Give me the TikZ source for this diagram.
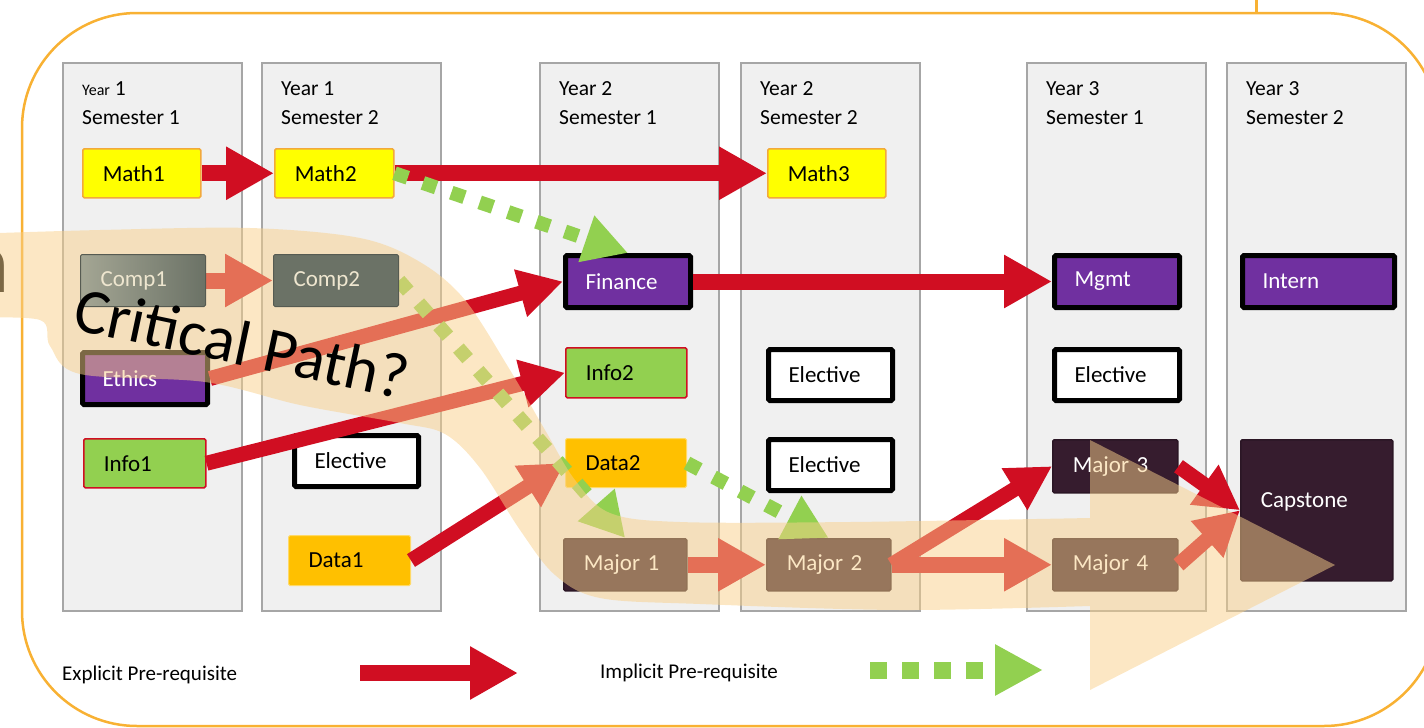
\documentclass[tikz,border=0pt]{standalone}
\usepackage{fontspec}
\setmainfont{Carlito}
\usetikzlibrary{arrows.meta}
\definecolor{redA}{HTML}{D00E22}
\definecolor{grnA}{HTML}{92D050}
\definecolor{purp}{HTML}{7030A0}
\definecolor{ylw}{HTML}{FFFF00}
\definecolor{ylwB}{HTML}{F2A93B}
\definecolor{orgD}{HTML}{FFC000}
\definecolor{darkc}{HTML}{361C2E}
\definecolor{colF}{HTML}{F0F0F0}
\definecolor{colB}{HTML}{A6A6A6}
\definecolor{outerc}{HTML}{F8B133}
\definecolor{bandc}{HTML}{F9D08A}
\definecolor{compc}{HTML}{6B7266}
\definecolor{compL}{HTML}{A4A694}
\definecolor{cmpT}{HTML}{EEE6CF}
\pgfdeclarelayer{bandlayer}
\pgfdeclarelayer{toplayer}
\pgfsetlayers{main,bandlayer,toplayer}
\begin{document}
\begin{tikzpicture}[x=1pt,y=-1pt,
  box/.style={rectangle, anchor=north west, inner xsep=20pt, inner ysep=0pt, align=left, font=\fontsize{23}{26}\selectfont, rounded corners=1.5pt},
  yel/.style={box, fill=ylw, draw=ylwB, line width=1.5pt},
  pur/.style={box, fill=purp, draw=black, line width=5pt, text=white},
  elec/.style={box, fill=white, draw=black, line width=5pt},
  grn/.style={box, fill=grnA, draw=redA, line width=1.5pt},
  org/.style={box, fill=orgD, draw=orgD!60!white, line width=1pt},
  drk/.style={box, fill=darkc, draw=darkc!80!black, line width=1.5pt, text=white},
  cmp/.style={box, fill=compc, draw=compc!80!black, line width=1pt, text=cmpT},
  col/.style={rectangle, anchor=north west, fill=colF, draw=colB, line width=1.5pt, minimum width=179pt, minimum height=548pt, inner sep=0pt},
  hdr/.style={anchor=base west, font=\fontsize{21.5}{26}\selectfont, inner sep=0pt},
  exA/.style={draw=redA, line width=16pt, -{Triangle[length=48pt,width=50pt]}},
  exD/.style={draw=redA, line width=15pt, -{Triangle[length=44pt,width=46pt]}},
  imA/.style={draw=grnA, line width=14pt, dash pattern=on 14pt off 16pt, -{Triangle[length=44pt,width=46pt]}},
  imL/.style={draw=grnA, line width=17pt, dash pattern=on 17pt off 15pt, -{Triangle[length=48pt,width=48pt]}},
  lgd/.style={anchor=base west, font=\fontsize{21}{24}\selectfont, inner sep=0pt},
]
\useasboundingbox (0,0) rectangle (1424,728);
% outer frame
\draw[outerc, line width=2.5pt, rounded corners=115pt] (22,13) rectangle (1439,726);
\draw[outerc, line width=3pt] (1256,0) -- (1256,13);

% columns
\foreach \cx/\nm in {62/c1,261/c2,539/c3,740/c4,1026/c5,1226/c6}
  \node[col] (\nm) at (\cx,62) {};
\node[hdr] (h1y) at (82,95) {{\fontsize{16}{20}\selectfont Year} 1};
\node[hdr] (h1s) at (82,124) {Semester 1};
\node[hdr] (h2y) at (281,95) {Year 1};
\node[hdr] (h2s) at (281,124) {Semester 2};
\node[hdr] (h3y) at (559,95) {Year 2};
\node[hdr] (h3s) at (559,124) {Semester 1};
\node[hdr] (h4y) at (760,95) {Year 2};
\node[hdr] (h4s) at (760,124) {Semester 2};
\node[hdr] (h5y) at (1046,95) {Year 3};
\node[hdr] (h5s) at (1046,124) {Semester 1};
\node[hdr] (h6y) at (1246,95) {Year 3};
\node[hdr] (h6s) at (1246,124) {Semester 2};

% clipped fragment at the left
\node[anchor=base east, font=\fontsize{88}{88}\selectfont, inner sep=0pt] (nfrag) at (10,292) {n};

% courses
\node[yel, text width=78pt, minimum height=49pt] (math1) at (82,148) {Math1};
\node[yel, text width=79pt, minimum height=49pt] (math2) at (274,148) {Math2};
\node[yel, text width=78pt, minimum height=49pt] (math3) at (767,148) {Math3};
\node[pur, text width=85pt, minimum height=52pt] (ethics) at (80,350) {Ethics};
\node[grn, text width=82pt, minimum height=49pt] (info1) at (83,438) {Info1};
\node[elec, text width=84pt, minimum height=51pt] (elec1) at (292,433) {Elective};
\node[org, text width=82pt, minimum height=50pt] (data1) at (288,535) {Data1};
\node[pur, text width=85pt, minimum height=52pt] (finance) at (563,253) {Finance};
\node[grn, text width=81pt, minimum height=50pt] (info2) at (565,347) {Info2};
\node[org, text width=81pt, minimum height=49pt] (data2) at (565,438) {Data2};
\node[drk, text width=83pt, minimum height=52pt] (major1) at (563,538) {Major 1};
\node[elec, text width=84pt, minimum height=51pt] (elec2) at (766,347) {Elective};
\node[elec, text width=84pt, minimum height=51pt] (elec3) at (766,437) {Elective};
\node[drk, text width=84pt, minimum height=52pt] (major2) at (766,538) {Major 2};
\node[pur, text width=85pt, minimum height=52pt] (mgmt) at (1052,253) {Mgmt};
\node[elec, text width=85pt, minimum height=51pt] (elec4) at (1052,347) {Elective};
\node[drk, text width=85pt, minimum height=53pt] (major3) at (1052,439) {Major 3};
\node[drk, text width=85pt, minimum height=52pt] (major4) at (1052,538) {Major 4};
\node[pur, text width=112pt, minimum height=52pt] (intern) at (1240,253) {Intern};
\node[drk, text width=112pt, minimum height=141pt] (capstone) at (1240,439) {\raisebox{20pt}{Capstone}};

% compulsory computing courses sit above the highlight band
\begin{pgfonlayer}{toplayer}
\node[cmp, left color=compL, right color=compc, text width=85pt, minimum height=52pt] (comp1) at (80,254) {Comp1};
\node[cmp, text width=85pt, minimum height=52pt] (comp2) at (273,254) {Comp2};
\end{pgfonlayer}

% explicit prerequisites
\draw[exA] (math1.east) -- (math2.west);
\draw[exA] (math2.east) -- (math3.west);
\draw[exA] (finance.east) -- (mgmt.west);
\draw[exA] (comp1.east) -- (comp2.west);
\draw[exD] (ethics.east) -- (finance.west);
\draw[exD] (info1.east) -- (info2.west);
\draw[exD] (data1.east) -- (data2.west);
\draw[exA] (major1.east) -- (major2.west);
\draw[exA] (major2.east) -- (major4.west);
\draw[exD] (major2.east) -- (major3.west);
\draw[exD] (major3.east) -- (capstone.west);
\draw[exD] (major4.east) -- (capstone.west);

% implicit prerequisites
\draw[imA] (math2.east) -- (finance.north);
\draw[imA] (comp2.east) -- (major1.north);
\draw[imA] (data2.east) -- (major2.north);

% legend
\node[lgd] (lgE) at (62,680) {Explicit Pre-requisite};
\coordinate (lgE1) at (360,673);
\coordinate (lgE2) at (518,673);
\draw[exA] (lgE1) -- (lgE2);
\node[lgd] (lgI) at (600,678) {Implicit Pre-requisite};
\coordinate (lgI1) at (870,670);
\coordinate (lgI2) at (1043,670);
\draw[imL] (lgI1) -- (lgI2);

% highlight band (critical path)
\begin{pgfonlayer}{bandlayer}
\fill[bandc, fill opacity=0.5]
  plot[smooth, tension=0.55] coordinates {(-30,234) (100,230) (250,228) (360,238) (420,262) (465,300) (510,370) (545,430) (575,480) (610,513) (680,522) (850,522) (1090,518)}
  -- (1090,440) -- (1335,565) -- (1090,690)
  -- plot[smooth, tension=0.55] coordinates {(1090,606) (900,610) (700,604) (600,598) (555,575) (520,530) (480,468) (445,434) (400,423) (300,405) (205,382) (80,374) (50,346) (40,320) (-30,318)}
  -- cycle;
\end{pgfonlayer}

\begin{pgfonlayer}{toplayer}
\node[rotate=-12, font=\fontsize{64}{64}\selectfont, inner sep=0pt] (crit) at (242,343) {Critical Path?};
\end{pgfonlayer}
\end{tikzpicture}
\end{document}
